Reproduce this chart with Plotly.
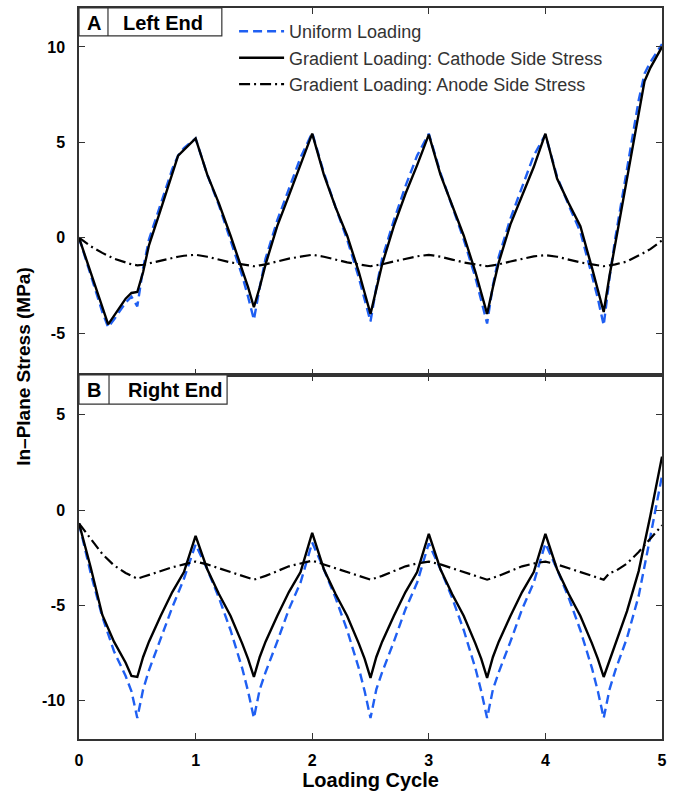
import plotly.graph_objects as go
from plotly.subplots import make_subplots

# ---- Panel A (left end) ----
x_left = [0.0, 0.1, 0.2, 0.25, 0.3, 0.4, 0.45, 0.5, 0.55, 0.6, 0.7, 0.8, 0.85, 0.9,
          1.0, 1.1, 1.2, 1.3, 1.4, 1.45, 1.5, 1.55, 1.6, 1.7, 1.8, 1.9,
          2.0, 2.1, 2.2, 2.3, 2.4, 2.45, 2.5, 2.55, 2.6, 2.7, 2.8, 2.9,
          3.0, 3.1, 3.2, 3.3, 3.4, 3.45, 3.5, 3.55, 3.6, 3.7, 3.8, 3.9,
          4.0, 4.1, 4.2, 4.3, 4.4, 4.45, 4.5, 4.55, 4.6, 4.7, 4.8, 4.85, 4.9, 5.0]

left_uniform = [0.0, -1.9, -3.9, -4.7, -4.3, -3.4, -3.1, -3.6, -1.6, -0.1, 1.8, 3.6, 4.3, 4.7,
                5.2, 3.3, 1.7, -0.1, -2.0, -3.1, -4.3, -2.6, -1.1, 0.9, 2.6, 4.2,
                5.5, 3.4, 1.6, -0.1, -2.1, -3.3, -4.4, -2.6, -1.1, 0.9, 2.7, 4.3,
                5.45, 3.4, 1.6, -0.1, -2.1, -3.3, -4.5, -2.5, -1.0, 1.0, 2.7, 4.3,
                5.4, 3.2, 1.7, 0.3, -2.0, -3.2, -4.6, -2.1, 0.0, 3.6, 7.2, 8.6, 9.2, 10.15]

left_cathode = [0.0, -1.8, -3.7, -4.55, -4.1, -3.2, -2.9, -2.85, -1.8, -0.4, 1.45, 3.3, 4.3, 4.6,
                5.2, 3.3, 1.8, 0.1, -1.7, -2.6, -3.65, -2.6, -1.4, 0.6, 2.2, 3.8,
                5.45, 3.3, 1.6, 0.1, -1.8, -2.9, -4.0, -2.7, -1.4, 0.6, 2.3, 3.8,
                5.4, 3.3, 1.7, 0.1, -1.8, -2.9, -4.0, -2.6, -1.3, 0.7, 2.2, 3.7,
                5.45, 3.1, 1.8, 0.6, -1.6, -2.7, -3.9, -2.0, -0.3, 3.1, 6.5, 8.2, 8.9, 10.0]

left_anode = [0.0, -0.45, -0.8, -0.95, -1.1, -1.3, -1.4, -1.45, -1.42, -1.35, -1.2, -1.05, -1.0, -0.95,
              -0.9, -1.0, -1.15, -1.3, -1.4, -1.45, -1.5, -1.45, -1.4, -1.25, -1.1, -1.0,
              -0.9, -1.0, -1.15, -1.3, -1.4, -1.45, -1.5, -1.45, -1.4, -1.25, -1.1, -0.98,
              -0.9, -1.0, -1.15, -1.3, -1.4, -1.45, -1.5, -1.45, -1.4, -1.25, -1.1, -0.98,
              -0.92, -1.0, -1.15, -1.3, -1.4, -1.45, -1.5, -1.45, -1.4, -1.25, -0.95, -0.78, -0.6, -0.15]

# ---- Panel B (right end) ----
x_right = [0.0, 0.1, 0.2, 0.3, 0.4, 0.45, 0.5, 0.55, 0.6, 0.7, 0.8, 0.9,
           1.0, 1.1, 1.2, 1.3, 1.4, 1.45, 1.5, 1.55, 1.6, 1.7, 1.8, 1.9,
           2.0, 2.1, 2.2, 2.3, 2.4, 2.45, 2.5, 2.55, 2.6, 2.7, 2.8, 2.9,
           3.0, 3.1, 3.2, 3.3, 3.4, 3.45, 3.5, 3.55, 3.6, 3.7, 3.8, 3.9,
           4.0, 4.1, 4.2, 4.3, 4.4, 4.45, 4.5, 4.55, 4.6, 4.7, 4.8, 4.9, 5.0]

right_uniform = [-0.7, -3.3, -5.6, -7.4, -8.7, -9.5, -10.9, -9.4, -8.4, -6.7, -5.1, -3.6,
                 -1.8, -3.1, -4.6, -6.3, -8.3, -9.5, -10.9, -9.4, -8.5, -6.9, -5.2, -3.8,
                 -1.7, -3.1, -4.6, -6.3, -8.3, -9.5, -10.9, -9.4, -8.5, -6.9, -5.2, -3.8,
                 -1.75, -3.1, -4.6, -6.3, -8.3, -9.5, -10.9, -9.4, -8.5, -6.9, -5.2, -3.8,
                 -1.75, -3.1, -4.6, -6.3, -8.3, -9.5, -10.9, -9.4, -8.4, -6.7, -4.5, -1.4, 1.8]

right_cathode = [-0.7, -3.0, -5.5, -6.9, -8.0, -8.7, -8.75, -7.7, -6.9, -5.55, -4.3, -3.25,
                 -1.35, -3.1, -4.4, -5.55, -7.0, -7.8, -8.75, -7.7, -6.9, -5.55, -4.3, -3.25,
                 -1.2, -3.1, -4.4, -5.55, -7.0, -7.8, -8.8, -7.7, -6.9, -5.55, -4.3, -3.25,
                 -1.25, -3.1, -4.4, -5.55, -7.0, -7.8, -8.8, -7.7, -6.9, -5.55, -4.3, -3.25,
                 -1.25, -3.1, -4.4, -5.55, -7.0, -7.8, -8.75, -7.9, -7.0, -5.3, -3.2, -0.3, 2.8]

right_anode = [-0.7, -1.5, -2.3, -2.9, -3.3, -3.45, -3.6, -3.5, -3.4, -3.2, -3.0, -2.85,
               -2.7, -2.85, -3.05, -3.25, -3.45, -3.55, -3.65, -3.55, -3.45, -3.2, -2.95, -2.8,
               -2.65, -2.85, -3.05, -3.25, -3.45, -3.55, -3.65, -3.55, -3.45, -3.2, -2.95, -2.8,
               -2.7, -2.85, -3.05, -3.25, -3.45, -3.55, -3.65, -3.55, -3.45, -3.2, -2.95, -2.8,
               -2.7, -2.85, -3.05, -3.25, -3.45, -3.55, -3.65, -3.3, -3.2, -2.8, -2.2, -1.5, -0.8]

series_names = ["Uniform Loading",
                "Gradient Loading: Cathode Side Stress",
                "Gradient Loading: Anode Side Stress"]

x_ticks = [0, 1, 2, 3, 4, 5]
y_ticks_left = [-5, 0, 5, 10]
y_ticks_right = [-10, -5, 0, 5]

FONT = "Liberation Sans, Arial, sans-serif"
BLUE = "#1f5ff2"
FRAME = "#333333"

styles = [dict(color=BLUE, width=2.4, dash="9px,5px"),
          dict(color="black", width=2.4),
          dict(color="black", width=2.2, dash="11px,4px,2px,4px")]

fig = make_subplots(rows=2, cols=1, shared_xaxes=True, vertical_spacing=0)

for i, (ya, name) in enumerate(zip([left_uniform, left_cathode, left_anode], series_names)):
    fig.add_trace(go.Scatter(x=x_left, y=ya, mode="lines", name=name, line=styles[i],
                             showlegend=True), row=1, col=1)
for i, ya in enumerate([right_uniform, right_cathode, right_anode]):
    fig.add_trace(go.Scatter(x=x_right, y=ya, mode="lines", name=series_names[i],
                             line=styles[i], showlegend=False), row=2, col=1)

axis_common = dict(showline=True, mirror="ticks", linecolor=FRAME, linewidth=1.5,
                   ticks="inside", ticklen=6, tickcolor=FRAME, tickwidth=1.2,
                   showgrid=False, zeroline=False, automargin=False,
                   tickfont=dict(family=FONT, size=16, color="black", weight="bold"))

fig.update_xaxes(range=[0, 5], tickvals=x_ticks, ticktext=[str(v) for v in x_ticks],
                 ticklabelstandoff=6, **axis_common)
fig.update_xaxes(showticklabels=False, row=1, col=1)
fig.update_xaxes(title=dict(text="Loading Cycle", standoff=4,
                            font=dict(family=FONT, size=20, color="black", weight="bold")),
                 row=2, col=1)

fig.update_yaxes(range=[-7.2, 12.04], tickvals=y_ticks_left,
                 ticktext=[str(v) for v in y_ticks_left], ticklabelstandoff=9,
                 domain=[0.498, 1.0], row=1, col=1, **axis_common)
fig.update_yaxes(range=[-12.0, 7.08], tickvals=y_ticks_right,
                 ticktext=[str(v) for v in y_ticks_right], ticklabelstandoff=9,
                 domain=[0.0, 0.498], row=2, col=1, **axis_common)

# panel label boxes
def panel_box(xref, yref, divider, right, bottom):
    box = dict(type="rect", xref=xref, yref=yref, x0=0, x1=right, y0=bottom, y1=1,
               line=dict(color=FRAME, width=1.2), fillcolor="white", layer="above")
    sep = dict(type="line", xref=xref, yref=yref, x0=divider, x1=divider, y0=bottom, y1=1,
               line=dict(color=FRAME, width=1.2), layer="above")
    return [box, sep]

shapes = panel_box("x domain", "y domain", 0.0497, 0.245, 0.924)
shapes += panel_box("x2 domain", "y2 domain", 0.0515, 0.254, 0.92)

label_font = dict(family=FONT, size=20, color="black", weight="bold")
annotations = [
    dict(text="A", xref="x domain", yref="y domain", x=0.025, y=0.96, showarrow=False,
         font=label_font, xanchor="center", yanchor="middle"),
    dict(text="Left End", xref="x domain", yref="y domain", x=0.144, y=0.96, showarrow=False,
         font=label_font, xanchor="center", yanchor="middle"),
    dict(text="B", xref="x2 domain", yref="y2 domain", x=0.0257, y=0.96, showarrow=False,
         font=label_font, xanchor="center", yanchor="middle"),
    dict(text="Right End", xref="x2 domain", yref="y2 domain", x=0.164, y=0.96, showarrow=False,
         font=label_font, xanchor="center", yanchor="middle"),
    dict(text="In\u2013Plane Stress (MPa)", xref="paper", yref="paper", x=-0.095, y=0.51,
         textangle=-90, showarrow=False, xanchor="center", yanchor="middle",
         font=dict(family=FONT, size=19, color="black", weight="bold")),
]

fig.update_layout(
    width=679, height=791,
    margin=dict(l=79, r=17, t=8, b=52),
    paper_bgcolor="white", plot_bgcolor="white",
    shapes=shapes, annotations=annotations,
    legend=dict(x=0.266, y=0.993, xanchor="left", yanchor="top",
                bgcolor="rgba(0,0,0,0)", borderwidth=0, itemwidth=45,
                font=dict(family=FONT, size=18, color="#333333"),
                tracegroupgap=0),
    font=dict(family=FONT),
)

fig.write_html("out.html")
